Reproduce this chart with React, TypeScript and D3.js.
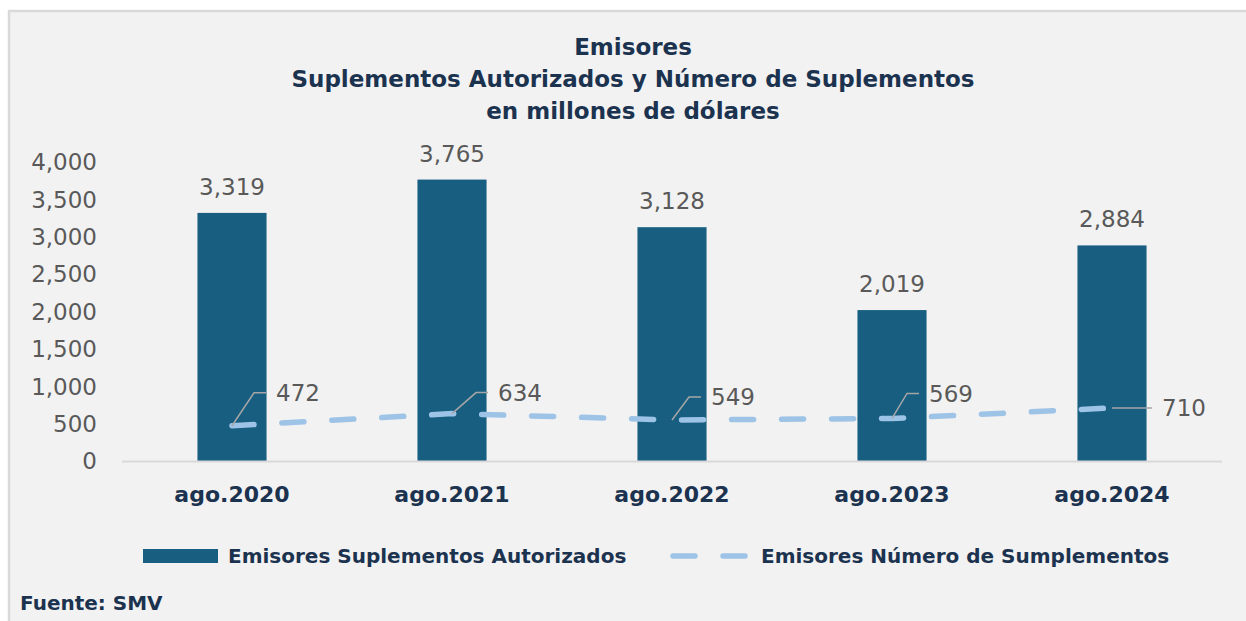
import React, { useRef, useEffect } from 'react'
import * as d3 from 'd3'

// data
const categories = ['ago.2020', 'ago.2021', 'ago.2022', 'ago.2023', 'ago.2024']
const montoAutorizado = [3319, 3765, 3128, 2019, 2884]
const numeroSuplementos = [472, 634, 549, 569, 710]
const yTicks = [0, 500, 1000, 1500, 2000, 2500, 3000, 3500, 4000]
const titleLines = ['Emisores', 'Suplementos Autorizados y Número de Suplementos', 'en millones de dólares']
const legendLabels = ['Emisores Suplementos Autorizados', 'Emisores Número de Sumplementos']
const sourceNote = 'Fuente: SMV'

// where each line label sits relative to its point (px)
const lineLabelOffsets: [number, number][] = [[44, -33], [46, -21], [39, -23], [37, -25], [50, 0]]

const W = 1246
const H = 621
const FONT = "'Century Gothic', 'DejaVu Sans', sans-serif"
const barColor = '#175e80'
const lineColor = '#9dc3e6'
const navy = '#1c3350'
const gray = '#595959'

const Chart: React.FC = () => {
  const svgRef = useRef<SVGSVGElement>(null)

  useEffect(() => {
    if (!svgRef.current) return
    const svg = d3.select(svgRef.current)
    svg.selectAll('*').remove()

    // panel
    svg.append('rect')
      .attr('x', 9).attr('y', 11)
      .attr('width', W + 10).attr('height', H + 10)
      .attr('fill', '#f2f2f2')
      .attr('stroke', '#d9d9d9')
      .attr('stroke-width', 2.5)

    const x = d3.scaleBand<string>()
      .domain(categories)
      .range([122, 1222])
      .paddingInner(0.686)
      .paddingOuter(0.343)

    const y = d3.scaleLinear().domain([0, 4000]).range([461, 162])
    const cx = (c: string) => (x(c) || 0) + x.bandwidth() / 2

    // title
    const title = svg.append('text')
      .attr('text-anchor', 'middle')
      .attr('font-family', FONT)
      .attr('font-weight', 'bold')
      .attr('font-size', 23)
      .attr('fill', navy)
    titleLines.forEach((t, i) => {
      title.append('tspan').attr('x', 633).attr('y', 55 + i * 32).text(t)
    })

    // y tick labels
    svg.append('g').selectAll('text')
      .data(yTicks)
      .join('text')
      .attr('x', 97)
      .attr('y', d => y(d))
      .attr('dy', '0.36em')
      .attr('text-anchor', 'end')
      .attr('font-family', FONT)
      .attr('font-size', 23)
      .attr('fill', gray)
      .text(d => d3.format(',')(d))

    // bars
    svg.append('g').selectAll('rect')
      .data(montoAutorizado)
      .join('rect')
      .attr('x', (d, i) => x(categories[i]) || 0)
      .attr('y', d => y(d))
      .attr('width', x.bandwidth())
      .attr('height', d => y(0) - y(d))
      .attr('fill', barColor)

    svg.append('g').selectAll('text')
      .data(montoAutorizado)
      .join('text')
      .attr('x', (d, i) => cx(categories[i]))
      .attr('y', d => y(d) - 18)
      .attr('text-anchor', 'middle')
      .attr('font-family', FONT)
      .attr('font-size', 23)
      .attr('fill', gray)
      .text(d => d3.format(',')(d))

    // x axis line
    svg.append('line')
      .attr('x1', 122).attr('x2', 1222)
      .attr('y1', y(0) + 0.5).attr('y2', y(0) + 0.5)
      .attr('stroke', '#d9d9d9')
      .attr('stroke-width', 2)

    svg.append('g').selectAll('text')
      .data(categories)
      .join('text')
      .attr('x', d => cx(d))
      .attr('y', 502)
      .attr('text-anchor', 'middle')
      .attr('font-family', FONT)
      .attr('font-weight', 'bold')
      .attr('font-size', 22)
      .attr('fill', navy)
      .text(d => d)

    // dashed line series
    const lineFn = d3.line<number>()
      .x((d, i) => cx(categories[i]))
      .y(d => y(d))
    svg.append('path')
      .attr('d', lineFn(numeroSuplementos) || '')
      .attr('fill', 'none')
      .attr('stroke', lineColor)
      .attr('stroke-width', 5.5)
      .attr('stroke-linecap', 'round')
      .attr('stroke-dasharray', '22 28')

    // line labels with leader lines
    numeroSuplementos.forEach((v, i) => {
      const px = cx(categories[i])
      const py = y(v)
      const [dx, dy] = lineLabelOffsets[i]
      const pts: [number, number][] = dy === 0
        ? [[px, py], [px + dx - 10, py]]
        : [[px, py], [px + dx - 22, py + dy], [px + dx - 10, py + dy]]
      svg.append('path')
        .attr('d', d3.line()(pts) || '')
        .attr('fill', 'none')
        .attr('stroke', '#a6a6a6')
        .attr('stroke-width', 1.5)
      svg.append('text')
        .attr('x', px + dx)
        .attr('y', py + dy)
        .attr('dy', '0.36em')
        .attr('font-family', FONT)
        .attr('font-size', 23)
        .attr('fill', gray)
        .text(d3.format(',')(v))
    })

    // legend
    const legendY = 556
    svg.append('rect')
      .attr('x', 143).attr('y', legendY - 7)
      .attr('width', 75).attr('height', 14)
      .attr('fill', barColor)
    svg.append('line')
      .attr('x1', 673).attr('x2', 751)
      .attr('y1', legendY).attr('y2', legendY)
      .attr('stroke', lineColor)
      .attr('stroke-width', 5.5)
      .attr('stroke-linecap', 'round')
      .attr('stroke-dasharray', '22 28')
    ;[228, 761].forEach((lx, i) => {
      svg.append('text')
        .attr('x', lx)
        .attr('y', legendY)
        .attr('dy', '0.36em')
        .attr('font-family', FONT)
        .attr('font-weight', 'bold')
        .attr('font-size', 20)
        .attr('fill', navy)
        .text(legendLabels[i])
    })

    svg.append('text')
      .attr('x', 20)
      .attr('y', 603)
      .attr('dy', '0.36em')
      .attr('font-family', FONT)
      .attr('font-weight', 'bold')
      .attr('font-size', 20)
      .attr('fill', navy)
      .text(sourceNote)
  }, [])

  return (
    <svg
      ref={svgRef}
      width={W}
      height={H}
      style={{ position: 'absolute', left: 0, top: 0, background: '#fff' }}
    />
  )
}

export default function App() {
  return <Chart />
}
